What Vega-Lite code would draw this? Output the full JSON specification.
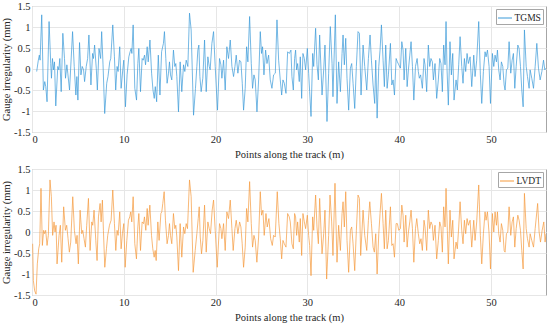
{
  "$schema": "https://vega.github.io/schema/vega-lite/v6.json",
  "padding": {"left": 0, "top": 0, "right": 4, "bottom": 0},
  "config": {
    "font": "Liberation Serif",
    "view": {"stroke": "#a6a6a6", "strokeWidth": 1},
    "axis": {"labelFont": "Liberation Serif", "titleFont": "Liberation Serif", "labelFontSize": 10.5, "titleFontSize": 10.5, "titleFontWeight": "normal", "labelColor": "#262626", "titleColor": "#262626", "gridColor": "#e6e6e6", "domain": false, "ticks": false, "labelPadding": 2, "titlePadding": 2},
    "axisX": {"titlePadding": 5},
    "legend": {"orient": "top-right", "offset": 3, "title": null, "symbolType": "stroke", "symbolSize": 196, "symbolStrokeWidth": 1, "labelFont": "Liberation Serif", "labelFontSize": 9.5, "labelColor": "#262626", "strokeColor": "#a6a6a6", "fillColor": "white", "padding": 1.5, "labelOffset": 2, "cornerRadius": 0},
    "concat": {"spacing": 2}
  },
  "datasets": {
    "tgms": [
      {"x":0.51,"y":-0.06},{"x":0.69,"y":0.21},{"x":0.8,"y":0.33},{"x":0.88,"y":0.21},{"x":1.06,"y":1.29},{"x":1.24,"y":-0.5},{"x":1.39,"y":-0.3},{"x":1.5,"y":-0.42},{"x":1.64,"y":-0.78},{"x":1.86,"y":1.13},{"x":2.04,"y":0.13},{"x":2.12,"y":-0.22},{"x":2.23,"y":0.25},{"x":2.34,"y":-0.02},{"x":2.45,"y":0.17},{"x":2.59,"y":-0.88},{"x":2.81,"y":0.06},{"x":2.92,"y":-0.02},{"x":3.03,"y":0.25},{"x":3.18,"y":-0.54},{"x":3.36,"y":0.85},{"x":3.54,"y":0.25},{"x":3.65,"y":-0.22},{"x":3.8,"y":0.1},{"x":3.9,"y":-0.1},{"x":4.09,"y":-0.5},{"x":4.42,"y":0.89},{"x":4.6,"y":0.06},{"x":4.78,"y":-0.62},{"x":4.89,"y":-0.18},{"x":5.0,"y":-0.74},{"x":5.18,"y":0.63},{"x":5.33,"y":-0.14},{"x":5.47,"y":0.06},{"x":5.62,"y":-0.02},{"x":5.73,"y":-0.3},{"x":5.91,"y":0.06},{"x":6.06,"y":0.25},{"x":6.2,"y":0.81},{"x":6.42,"y":-0.38},{"x":6.6,"y":0.37},{"x":6.7,"y":0.25},{"x":6.82,"y":0.57},{"x":7.0,"y":0.02},{"x":7.12,"y":-0.5},{"x":7.3,"y":0.49},{"x":7.48,"y":0.25},{"x":7.59,"y":0.89},{"x":7.74,"y":0.1},{"x":7.92,"y":-1.06},{"x":8.14,"y":-0.34},{"x":8.28,"y":-0.18},{"x":8.47,"y":0.17},{"x":8.58,"y":0.25},{"x":8.8,"y":1.05},{"x":8.98,"y":0.29},{"x":9.12,"y":-0.5},{"x":9.27,"y":0.06},{"x":9.38,"y":-0.06},{"x":9.56,"y":0.53},{"x":9.71,"y":-0.46},{"x":9.89,"y":-0.02},{"x":10.0,"y":0.21},{"x":10.18,"y":-0.9},{"x":10.36,"y":-0.14},{"x":10.55,"y":0.29},{"x":10.69,"y":0.41},{"x":10.8,"y":0.49},{"x":10.88,"y":0.37},{"x":11.02,"y":1.05},{"x":11.2,"y":-0.46},{"x":11.39,"y":-0.74},{"x":11.53,"y":0.13},{"x":11.64,"y":0.49},{"x":11.82,"y":-0.54},{"x":12.0,"y":0.25},{"x":12.12,"y":0.21},{"x":12.26,"y":0.33},{"x":12.37,"y":0.1},{"x":12.55,"y":0.53},{"x":12.66,"y":0.17},{"x":12.85,"y":0.69},{"x":13.03,"y":-0.1},{"x":13.18,"y":-0.5},{"x":13.32,"y":-0.7},{"x":13.43,"y":-0.42},{"x":13.58,"y":-0.78},{"x":13.76,"y":0.33},{"x":13.94,"y":-0.62},{"x":14.12,"y":0.41},
      {"x":14.32,"y":0.61},{"x":14.43,"y":0.89},{"x":14.58,"y":0.25},{"x":14.72,"y":-0.34},{"x":14.87,"y":-0.1},{"x":14.98,"y":0.17},{"x":15.09,"y":-0.14},{"x":15.23,"y":-0.26},{"x":15.41,"y":0.45},{"x":15.56,"y":0.06},{"x":15.67,"y":0.13},{"x":15.78,"y":-0.18},{"x":15.96,"y":-1.02},{"x":16.14,"y":0.17},{"x":16.32,"y":-0.54},{"x":16.51,"y":0.1},{"x":16.65,"y":-0.06},{"x":16.8,"y":0.21},{"x":16.98,"y":0.06},{"x":17.16,"y":1.33},{"x":17.34,"y":0.93},{"x":17.6,"y":-1.1},{"x":17.81,"y":-0.46},{"x":17.96,"y":0.06},{"x":18.07,"y":0.45},{"x":18.18,"y":0.57},{"x":18.29,"y":-0.18},{"x":18.43,"y":-0.54},{"x":18.61,"y":-0.22},{"x":18.8,"y":0.69},{"x":18.98,"y":-0.54},{"x":19.16,"y":0.29},{"x":19.31,"y":0.06},{"x":19.41,"y":-0.02},{"x":19.6,"y":0.61},{"x":19.78,"y":0.89},{"x":19.96,"y":0.06},{"x":20.21,"y":-0.98},{"x":20.43,"y":0.25},{"x":20.58,"y":0.1},{"x":20.69,"y":-0.22},{"x":20.87,"y":0.21},{"x":21.05,"y":-0.5},{"x":21.23,"y":0.53},{"x":21.41,"y":0.25},{"x":21.6,"y":0.69},{"x":21.78,"y":0.06},{"x":21.96,"y":-0.18},{"x":22.11,"y":0.06},{"x":22.25,"y":0.33},{"x":22.43,"y":-0.1},{"x":22.61,"y":0.21},{"x":22.76,"y":0.17},{"x":22.91,"y":-0.34},{"x":23.05,"y":-0.98},{"x":23.23,"y":-0.46},{"x":23.38,"y":0.53},{"x":23.52,"y":0.17},{"x":23.71,"y":1.25},{"x":23.89,"y":0.13},{"x":24.03,"y":-0.46},{"x":24.18,"y":-0.14},{"x":24.32,"y":-0.26},{"x":24.51,"y":-1.02},{"x":24.69,"y":-0.26},{"x":24.87,"y":0.89},{"x":25.01,"y":0.37},{"x":25.12,"y":0.53},{"x":25.27,"y":-0.14},{"x":25.45,"y":0.45},{"x":25.6,"y":0.13},{"x":25.78,"y":0.33},{"x":25.96,"y":-0.26},{"x":26.14,"y":-0.46},{"x":26.32,"y":-0.14},{"x":26.51,"y":-0.1},{"x":26.69,"y":1.17},{"x":26.87,"y":0.21},{"x":27.05,"y":-0.26},{"x":27.2,"y":-0.62},{"x":27.34,"y":-0.26},{"x":27.49,"y":-0.34},{"x":27.67,"y":-0.58},{"x":27.85,"y":0.41},{"x":28.03,"y":0.37},{"x":28.21,"y":0.45},
      {"x":28.32,"y":-0.18},{"x":28.47,"y":-0.5},{"x":28.61,"y":0.25},{"x":28.72,"y":0.45},{"x":28.83,"y":-0.02},{"x":28.94,"y":0.13},{"x":29.12,"y":-0.3},{"x":29.23,"y":0.29},{"x":29.38,"y":-0.7},{"x":29.52,"y":0.37},{"x":29.67,"y":0.25},{"x":29.81,"y":-0.02},{"x":30.0,"y":0.49},{"x":30.14,"y":-0.1},{"x":30.25,"y":-0.54},{"x":30.4,"y":-1.13},{"x":30.58,"y":0.37},{"x":30.69,"y":0.06},{"x":30.9,"y":0.97},{"x":31.05,"y":0.1},{"x":31.2,"y":-0.26},{"x":31.34,"y":0.81},{"x":31.6,"y":-0.62},{"x":31.78,"y":-0.02},{"x":31.92,"y":0.57},{"x":32.14,"y":-1.25},{"x":32.32,"y":-0.1},{"x":32.5,"y":1.01},{"x":32.69,"y":0.13},{"x":32.79,"y":-0.66},{"x":33.05,"y":1.29},{"x":33.23,"y":-0.82},{"x":33.41,"y":0.17},{"x":33.6,"y":-0.54},{"x":33.78,"y":0.37},{"x":33.89,"y":0.81},{"x":34.03,"y":0.1},{"x":34.18,"y":0.73},{"x":34.32,"y":-0.22},{"x":34.5,"y":-0.98},{"x":34.69,"y":0.02},{"x":34.83,"y":0.13},{"x":34.98,"y":-0.34},{"x":35.16,"y":-0.94},{"x":35.34,"y":0.06},{"x":35.52,"y":0.89},{"x":35.67,"y":0.85},{"x":35.85,"y":-0.62},{"x":36.07,"y":0.57},{"x":36.25,"y":0.06},{"x":36.47,"y":-0.5},{"x":36.65,"y":0.25},{"x":36.83,"y":0.81},{"x":36.98,"y":0.21},{"x":37.16,"y":-0.38},{"x":37.34,"y":-0.82},{"x":37.45,"y":0.21},{"x":37.6,"y":-1.17},{"x":37.78,"y":0.06},{"x":37.92,"y":0.45},{"x":38.07,"y":1.05},{"x":38.25,"y":0.21},{"x":38.39,"y":-0.42},{"x":38.54,"y":0.57},{"x":38.69,"y":-0.46},{"x":38.83,"y":-0.14},{"x":39.05,"y":0.61},{"x":39.2,"y":-0.38},{"x":39.34,"y":-0.26},{"x":39.49,"y":-0.62},{"x":39.67,"y":0.25},{"x":39.81,"y":0.17},{"x":39.96,"y":0.1},{"x":40.14,"y":0.02},{"x":40.29,"y":0.65},{"x":40.43,"y":0.45},{"x":40.54,"y":-0.26},{"x":40.72,"y":0.49},{"x":40.87,"y":-0.42},{"x":41.01,"y":-0.02},{"x":41.16,"y":0.33},{"x":41.3,"y":0.65},{"x":41.45,"y":0.06},{"x":41.6,"y":-0.74},{"x":41.78,"y":0.06},{"x":41.96,"y":0.25},
      {"x":42.09,"y":-0.06},{"x":42.2,"y":-0.22},{"x":42.34,"y":-0.14},{"x":42.53,"y":-0.46},{"x":42.71,"y":0.25},{"x":42.82,"y":0.1},{"x":43.0,"y":-0.54},{"x":43.18,"y":0.57},{"x":43.33,"y":0.06},{"x":43.47,"y":0.25},{"x":43.62,"y":0.17},{"x":43.73,"y":-0.26},{"x":43.91,"y":0.13},{"x":44.09,"y":-0.7},{"x":44.27,"y":-0.26},{"x":44.42,"y":0.25},{"x":44.56,"y":0.13},{"x":44.71,"y":-0.54},{"x":44.85,"y":0.57},{"x":45.0,"y":0.1},{"x":45.11,"y":1.13},{"x":45.22,"y":-0.02},{"x":45.36,"y":-0.86},{"x":45.54,"y":0.65},{"x":45.69,"y":-0.14},{"x":45.84,"y":0.37},{"x":45.98,"y":-0.74},{"x":46.2,"y":-0.26},{"x":46.34,"y":-0.5},{"x":46.49,"y":0.1},{"x":46.64,"y":0.77},{"x":46.82,"y":0.06},{"x":46.96,"y":-0.34},{"x":47.11,"y":0.25},{"x":47.25,"y":-0.06},{"x":47.4,"y":0.37},{"x":47.54,"y":0.13},{"x":47.73,"y":0.29},{"x":47.91,"y":-0.42},{"x":48.13,"y":0.33},{"x":48.27,"y":-0.18},{"x":48.45,"y":0.21},{"x":48.67,"y":1.13},{"x":48.85,"y":-0.14},{"x":49.0,"y":-0.82},{"x":49.18,"y":-0.06},{"x":49.36,"y":0.41},{"x":49.47,"y":0.29},{"x":49.62,"y":0.45},{"x":49.8,"y":0.06},{"x":49.95,"y":-0.82},{"x":50.16,"y":0.37},{"x":50.31,"y":0.06},{"x":50.45,"y":0.33},{"x":50.6,"y":0.17},{"x":50.71,"y":0.45},{"x":50.85,"y":-0.02},{"x":51.0,"y":-0.26},{"x":51.14,"y":0.17},{"x":51.29,"y":0.06},{"x":51.44,"y":-0.38},{"x":51.54,"y":-0.5},{"x":51.69,"y":-0.02},{"x":51.84,"y":0.02},{"x":51.98,"y":0.65},{"x":52.16,"y":-0.1},{"x":52.31,"y":0.21},{"x":52.45,"y":0.37},{"x":52.6,"y":-0.46},{"x":52.75,"y":0.06},{"x":52.93,"y":0.57},{"x":53.07,"y":0.49},{"x":53.22,"y":0.06},{"x":53.36,"y":-0.5},{"x":53.51,"y":-0.9},{"x":53.65,"y":0.93},{"x":53.84,"y":0.06},{"x":53.98,"y":-0.18},{"x":54.16,"y":-0.46},{"x":54.27,"y":-0.02},{"x":54.45,"y":-0.22},{"x":54.64,"y":-0.46},{"x":54.82,"y":0.06},{"x":55.0,"y":0.61},{"x":55.18,"y":0.02},{"x":55.36,"y":-0.26},{"x":55.55,"y":-0.06},{"x":55.73,"y":0.21},{"x":55.87,"y":-0.02},{"x":56.0,"y":0.02}
    ],
    "lvdt": [
      {"x":0.07,"y":-0.28},{"x":0.15,"y":-1.16},{"x":0.29,"y":-1.4},{"x":0.44,"y":-1.48},{"x":0.58,"y":-0.76},{"x":0.73,"y":-0.4},{"x":0.84,"y":-0.28},{"x":0.98,"y":1.04},{"x":1.13,"y":-0.32},{"x":1.27,"y":0.04},{"x":1.38,"y":-0.04},{"x":1.49,"y":0.04},{"x":1.64,"y":-0.32},{"x":1.78,"y":-0.08},{"x":1.96,"y":1.24},{"x":2.11,"y":0.84},{"x":2.25,"y":-0.08},{"x":2.4,"y":0.24},{"x":2.51,"y":0.0},{"x":2.62,"y":0.16},{"x":2.73,"y":-0.76},{"x":2.95,"y":-0.08},{"x":3.09,"y":0.16},{"x":3.24,"y":-0.72},{"x":3.45,"y":0.6},{"x":3.64,"y":0.04},{"x":3.78,"y":0.16},{"x":3.93,"y":-0.16},{"x":4.07,"y":-0.48},{"x":4.22,"y":-0.24},{"x":4.44,"y":0.84},{"x":4.62,"y":0.04},{"x":4.8,"y":-0.28},{"x":4.91,"y":-0.08},{"x":5.05,"y":-0.76},{"x":5.24,"y":0.52},{"x":5.42,"y":-0.04},{"x":5.53,"y":0.04},{"x":5.67,"y":-0.16},{"x":5.82,"y":-0.36},{"x":5.96,"y":0.16},{"x":6.15,"y":0.8},{"x":6.33,"y":-0.44},{"x":6.51,"y":0.24},{"x":6.62,"y":0.16},{"x":6.76,"y":0.52},{"x":6.95,"y":-0.2},{"x":7.09,"y":-0.68},{"x":7.24,"y":0.36},{"x":7.42,"y":0.68},{"x":7.53,"y":0.24},{"x":7.67,"y":0.76},{"x":7.78,"y":0.04},{"x":7.93,"y":-0.84},{"x":8.11,"y":-0.4},{"x":8.25,"y":-0.08},{"x":8.44,"y":0.16},{"x":8.62,"y":0.28},{"x":8.8,"y":1.0},{"x":8.98,"y":0.2},{"x":9.13,"y":-0.44},{"x":9.27,"y":0.04},{"x":9.38,"y":-0.08},{"x":9.56,"y":0.48},{"x":9.71,"y":-0.4},{"x":9.85,"y":-0.04},{"x":10.0,"y":0.2},{"x":10.15,"y":-0.84},{"x":10.33,"y":-0.2},{"x":10.51,"y":0.28},{"x":10.65,"y":0.36},{"x":10.76,"y":0.48},{"x":10.87,"y":0.24},{"x":11.02,"y":0.84},{"x":11.2,"y":-0.28},{"x":11.38,"y":-0.64},{"x":11.53,"y":0.12},{"x":11.64,"y":0.44},{"x":11.82,"y":-0.44},{"x":12.0,"y":0.24},{"x":12.15,"y":0.2},{"x":12.25,"y":0.36},{"x":12.4,"y":0.04},{"x":12.55,"y":0.56},{"x":12.65,"y":0.16},{"x":12.84,"y":0.64},{"x":13.02,"y":-0.08},{"x":13.16,"y":-0.4},{"x":13.31,"y":-0.6},{"x":13.42,"y":-0.44},{"x":13.53,"y":-0.68},{"x":13.71,"y":0.24},{"x":13.85,"y":-0.2},{"x":14.04,"y":0.44},
      {"x":14.14,"y":0.48},{"x":14.25,"y":0.68},{"x":14.4,"y":0.96},{"x":14.54,"y":0.28},{"x":14.72,"y":-0.28},{"x":14.87,"y":-0.08},{"x":14.98,"y":0.2},{"x":15.09,"y":-0.08},{"x":15.23,"y":-0.28},{"x":15.41,"y":0.44},{"x":15.56,"y":0.08},{"x":15.67,"y":0.16},{"x":15.78,"y":-0.12},{"x":15.96,"y":-0.92},{"x":16.14,"y":0.2},{"x":16.32,"y":-0.6},{"x":16.51,"y":0.12},{"x":16.65,"y":-0.04},{"x":16.8,"y":0.2},{"x":16.94,"y":0.08},{"x":17.16,"y":1.24},{"x":17.34,"y":0.84},{"x":17.56,"y":-0.96},{"x":17.78,"y":-0.44},{"x":17.96,"y":-0.04},{"x":18.11,"y":0.32},{"x":18.22,"y":0.6},{"x":18.33,"y":-0.12},{"x":18.47,"y":-0.52},{"x":18.62,"y":-0.2},{"x":18.8,"y":0.64},{"x":18.98,"y":-0.48},{"x":19.16,"y":0.24},{"x":19.31,"y":0.08},{"x":19.45,"y":-0.04},{"x":19.63,"y":0.52},{"x":19.78,"y":0.76},{"x":19.96,"y":0.04},{"x":20.18,"y":-0.84},{"x":20.43,"y":0.2},{"x":20.58,"y":0.08},{"x":20.69,"y":-0.16},{"x":20.87,"y":0.2},{"x":21.05,"y":-0.44},{"x":21.23,"y":0.48},{"x":21.41,"y":0.32},{"x":21.6,"y":0.76},{"x":21.78,"y":0.08},{"x":21.92,"y":-0.44},{"x":22.11,"y":0.08},{"x":22.25,"y":0.28},{"x":22.43,"y":-0.04},{"x":22.62,"y":0.24},{"x":22.76,"y":0.12},{"x":22.9,"y":-0.28},{"x":23.05,"y":-0.84},{"x":23.23,"y":-0.36},{"x":23.38,"y":0.56},{"x":23.52,"y":0.24},{"x":23.71,"y":1.2},{"x":23.89,"y":0.2},{"x":24.03,"y":-0.36},{"x":24.18,"y":-0.08},{"x":24.32,"y":-0.2},{"x":24.5,"y":-0.72},{"x":24.69,"y":-0.12},{"x":24.87,"y":0.96},{"x":25.01,"y":0.4},{"x":25.16,"y":0.52},{"x":25.3,"y":-0.08},{"x":25.49,"y":0.44},{"x":25.63,"y":0.12},{"x":25.81,"y":0.32},{"x":26.0,"y":-0.16},{"x":26.18,"y":-0.32},{"x":26.32,"y":-0.08},{"x":26.5,"y":-0.12},{"x":26.72,"y":0.96},{"x":26.9,"y":0.2},{"x":27.05,"y":-0.16},{"x":27.2,"y":-0.64},{"x":27.34,"y":-0.2},{"x":27.49,"y":-0.28},{"x":27.67,"y":-0.36},{"x":27.85,"y":0.44},{"x":28.03,"y":0.36},
      {"x":28.14,"y":0.24},{"x":28.32,"y":-0.28},{"x":28.47,"y":-0.4},{"x":28.61,"y":0.44},{"x":28.72,"y":0.36},{"x":28.83,"y":-0.08},{"x":28.94,"y":0.24},{"x":29.12,"y":-0.24},{"x":29.23,"y":0.32},{"x":29.38,"y":-0.56},{"x":29.52,"y":0.44},{"x":29.67,"y":0.24},{"x":29.81,"y":0.08},{"x":30.0,"y":0.4},{"x":30.14,"y":-0.08},{"x":30.25,"y":-0.32},{"x":30.4,"y":-1.04},{"x":30.58,"y":0.36},{"x":30.69,"y":0.04},{"x":30.9,"y":0.88},{"x":31.05,"y":0.12},{"x":31.2,"y":-0.28},{"x":31.34,"y":0.8},{"x":31.6,"y":-0.52},{"x":31.78,"y":-0.04},{"x":31.92,"y":0.52},{"x":32.1,"y":-1.12},{"x":32.32,"y":-0.08},{"x":32.47,"y":0.88},{"x":32.65,"y":0.24},{"x":32.79,"y":-0.56},{"x":33.01,"y":1.16},{"x":33.23,"y":-0.72},{"x":33.41,"y":0.16},{"x":33.6,"y":-0.44},{"x":33.78,"y":0.44},{"x":33.89,"y":0.72},{"x":34.03,"y":0.12},{"x":34.18,"y":0.96},{"x":34.32,"y":-0.2},{"x":34.5,"y":-0.96},{"x":34.69,"y":0.04},{"x":34.83,"y":0.12},{"x":34.98,"y":-0.28},{"x":35.16,"y":-0.92},{"x":35.34,"y":0.04},{"x":35.52,"y":0.88},{"x":35.67,"y":0.8},{"x":35.81,"y":-0.56},{"x":36.07,"y":0.52},{"x":36.25,"y":-0.08},{"x":36.47,"y":-0.44},{"x":36.65,"y":0.28},{"x":36.8,"y":0.72},{"x":36.98,"y":0.2},{"x":37.16,"y":-0.36},{"x":37.3,"y":-0.48},{"x":37.45,"y":-0.04},{"x":37.6,"y":-1.0},{"x":37.78,"y":-0.04},{"x":37.92,"y":0.44},{"x":38.07,"y":0.92},{"x":38.25,"y":0.2},{"x":38.39,"y":-0.4},{"x":38.54,"y":0.52},{"x":38.69,"y":-0.4},{"x":38.83,"y":-0.2},{"x":39.05,"y":0.6},{"x":39.2,"y":-0.32},{"x":39.34,"y":-0.28},{"x":39.49,"y":-0.6},{"x":39.67,"y":0.2},{"x":39.81,"y":0.2},{"x":39.96,"y":0.04},{"x":40.14,"y":0.08},{"x":40.29,"y":0.64},{"x":40.43,"y":0.4},{"x":40.54,"y":-0.24},{"x":40.72,"y":0.4},{"x":40.87,"y":-0.36},{"x":41.01,"y":0.0},{"x":41.16,"y":0.24},{"x":41.3,"y":0.52},{"x":41.45,"y":0.08},{"x":41.6,"y":-0.72},{"x":41.78,"y":0.08},{"x":41.92,"y":0.32},
      {"x":42.09,"y":-0.04},{"x":42.24,"y":-0.28},{"x":42.38,"y":-0.16},{"x":42.53,"y":-0.44},{"x":42.71,"y":0.28},{"x":42.82,"y":0.12},{"x":43.0,"y":-0.44},{"x":43.18,"y":0.52},{"x":43.33,"y":0.08},{"x":43.47,"y":0.24},{"x":43.62,"y":0.16},{"x":43.73,"y":-0.2},{"x":43.91,"y":0.16},{"x":44.09,"y":-0.64},{"x":44.27,"y":-0.2},{"x":44.42,"y":0.24},{"x":44.56,"y":0.12},{"x":44.71,"y":-0.48},{"x":44.85,"y":0.6},{"x":45.0,"y":0.12},{"x":45.11,"y":1.04},{"x":45.25,"y":0.04},{"x":45.36,"y":-0.76},{"x":45.54,"y":0.52},{"x":45.69,"y":-0.12},{"x":45.84,"y":0.28},{"x":45.98,"y":-0.64},{"x":46.2,"y":-0.24},{"x":46.34,"y":-0.4},{"x":46.49,"y":0.12},{"x":46.64,"y":0.72},{"x":46.82,"y":0.04},{"x":46.96,"y":-0.28},{"x":47.11,"y":0.28},{"x":47.25,"y":-0.04},{"x":47.4,"y":0.32},{"x":47.54,"y":0.16},{"x":47.73,"y":0.28},{"x":47.91,"y":-0.36},{"x":48.13,"y":0.28},{"x":48.27,"y":-0.2},{"x":48.45,"y":0.24},{"x":48.67,"y":1.12},{"x":48.85,"y":-0.08},{"x":49.0,"y":-0.76},{"x":49.18,"y":-0.04},{"x":49.36,"y":0.48},{"x":49.47,"y":0.28},{"x":49.62,"y":0.48},{"x":49.8,"y":-0.04},{"x":49.95,"y":-0.88},{"x":50.16,"y":0.44},{"x":50.31,"y":0.0},{"x":50.45,"y":0.48},{"x":50.6,"y":0.16},{"x":50.71,"y":0.48},{"x":50.85,"y":-0.04},{"x":51.0,"y":-0.24},{"x":51.14,"y":0.2},{"x":51.29,"y":0.04},{"x":51.44,"y":-0.44},{"x":51.54,"y":-0.48},{"x":51.69,"y":-0.04},{"x":51.84,"y":0.0},{"x":51.98,"y":0.6},{"x":52.16,"y":-0.08},{"x":52.31,"y":0.24},{"x":52.45,"y":0.36},{"x":52.6,"y":-0.36},{"x":52.75,"y":0.08},{"x":52.93,"y":0.4},{"x":53.07,"y":0.28},{"x":53.22,"y":0.04},{"x":53.36,"y":-0.44},{"x":53.51,"y":-0.88},{"x":53.65,"y":0.92},{"x":53.84,"y":0.08},{"x":53.98,"y":-0.16},{"x":54.16,"y":-0.36},{"x":54.27,"y":-0.04},{"x":54.45,"y":-0.2},{"x":54.64,"y":-0.36},{"x":54.82,"y":0.08},{"x":55.09,"y":0.68},{"x":55.25,"y":0.0},{"x":55.4,"y":-0.24},{"x":55.58,"y":0.04},{"x":55.76,"y":0.24},{"x":55.9,"y":-0.24},{"x":56.0,"y":-0.04}
    ]
  },
  "vconcat": [
    {
      "width": 514, "height": 126,
      "data": {"name": "tgms"},
      "mark": {"type": "line", "strokeWidth": 0.7, "clip": true},
      "encoding": {
        "x": {"field": "x", "type": "quantitative", "scale": {"domain": [0, 56], "nice": false}, "axis": {"values": [0, 10, 20, 30, 40, 50], "title": "Points along the track (m)"}},
        "y": {"field": "y", "type": "quantitative", "scale": {"domain": [-1.5, 1.5], "nice": false}, "axis": {"values": [-1.5, -1, -0.5, 0, 0.5, 1, 1.5], "labelExpr": "'' + datum.value", "title": "Gauge irregularity (mm)"}},
        "color": {"datum": "TGMS", "scale": {"range": ["#3a9ad9"]}}
      }
    },
    {
      "width": 514, "height": 126,
      "data": {"name": "lvdt"},
      "mark": {"type": "line", "strokeWidth": 0.7, "clip": true},
      "encoding": {
        "x": {"field": "x", "type": "quantitative", "scale": {"domain": [0, 56], "nice": false}, "axis": {"values": [0, 10, 20, 30, 40, 50], "title": "Points along the track (m)"}},
        "y": {"field": "y", "type": "quantitative", "scale": {"domain": [-1.5, 1.5], "nice": false}, "axis": {"values": [-1.5, -1, -0.5, 0, 0.5, 1, 1.5], "labelExpr": "'' + datum.value", "title": "Gauge irregularity (mm)"}},
        "color": {"datum": "LVDT", "scale": {"range": ["#f59a3c"]}}
      }
    }
  ],
  "resolve": {"scale": {"color": "independent", "x": "independent", "y": "independent"}}
}
